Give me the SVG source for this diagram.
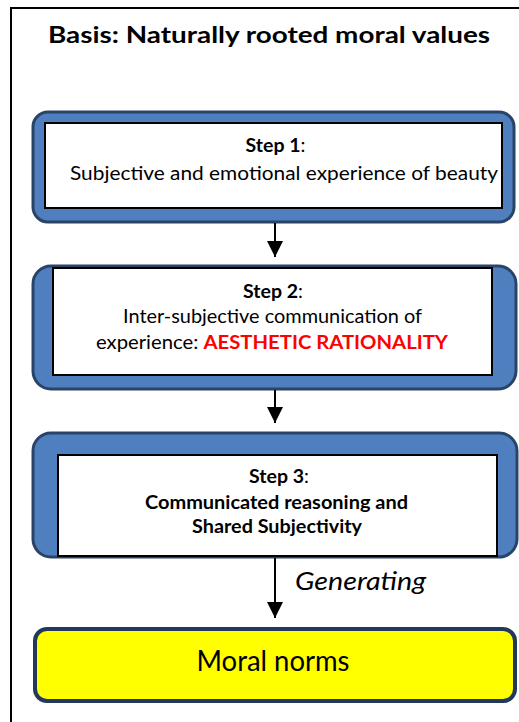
<svg xmlns="http://www.w3.org/2000/svg" width="519" height="722" viewBox="0 0 519 722">
<style>
text{font-family:Lato,"Open Sans","Liberation Sans",sans-serif;fill:#000}
.blue{fill:#4f7fbf;stroke:#2a4468;stroke-width:3}
.inner{fill:#fff;stroke:#000;stroke-width:2}
.t{font-size:19.5px;text-anchor:middle}
.b{font-weight:bold}
.conn{stroke:#000;stroke-width:2;fill:none}
</style>
<defs>
<marker id="ah" markerUnits="userSpaceOnUse" markerWidth="16" markerHeight="16" refX="16" refY="8" orient="auto">
<path d="M0,0 L16,8 L0,16 Z" fill="#000"/>
</marker>
</defs>
<rect x="0" y="0" width="519" height="722" fill="#fff"/>
<rect id="frame" x="11" y="8" width="530" height="740" fill="none" stroke="#000" stroke-width="2"/>
<g id="title">
<text x="269" y="43" font-size="23" font-weight="bold" text-anchor="middle" textLength="442" lengthAdjust="spacingAndGlyphs">Basis: Naturally rooted moral values</text>
</g>
<g id="step1">
<rect class="blue" x="33" y="112" width="481" height="110" rx="15"/>
<rect class="inner" x="45" y="123" width="457" height="85"/>
<text class="t" x="275.5" y="152"><tspan class="b">Step 1</tspan>:</text>
<text class="t" x="284" y="180" textLength="428" lengthAdjust="spacingAndGlyphs">Subjective and emotional experience of beauty</text>
</g>
<g id="step2">
<rect class="blue" x="33" y="266" width="483" height="123" rx="18"/>
<rect class="inner" x="53" y="268" width="439" height="107"/>
<text class="t" x="273" y="298"><tspan class="b">Step 2</tspan>:</text>
<text class="t" x="272.5" y="323" textLength="299" lengthAdjust="spacingAndGlyphs">Inter-subjective communication of</text>
<text class="t" x="272" y="349" textLength="352" lengthAdjust="spacingAndGlyphs">experience: <tspan class="b" fill="#ff0000">AESTHETIC RATIONALITY</tspan></text>
</g>
<g id="step3">
<rect class="blue" x="33" y="433" width="484" height="124" rx="18"/>
<rect class="inner" x="58" y="455" width="439" height="101"/>
<text class="t" x="279" y="483"><tspan class="b">Step 3</tspan>:</text>
<text class="t b" x="276.5" y="509" textLength="263" lengthAdjust="spacingAndGlyphs">Communicated reasoning and</text>
<text class="t b" x="277" y="533" textLength="170" lengthAdjust="spacingAndGlyphs">Shared Subjectivity</text>
</g>
<g id="moral">
<rect x="35" y="629" width="480" height="72" rx="12" fill="#ffff00" stroke="#23395b" stroke-width="4"/>
<text x="273" y="671" font-size="29" text-anchor="middle" textLength="153" lengthAdjust="spacingAndGlyphs">Moral norms</text>
</g>
<g id="connectors">
<line class="conn" x1="275" y1="223" x2="275" y2="257" marker-end="url(#ah)"/>
<line class="conn" x1="275" y1="390" x2="275" y2="423" marker-end="url(#ah)"/>
<line class="conn" x1="275" y1="558" x2="275" y2="618" marker-end="url(#ah)"/>
<text x="360.5" y="590" font-size="25" font-style="italic" text-anchor="middle" textLength="131" lengthAdjust="spacingAndGlyphs">Generating</text>
</g>
</svg>
